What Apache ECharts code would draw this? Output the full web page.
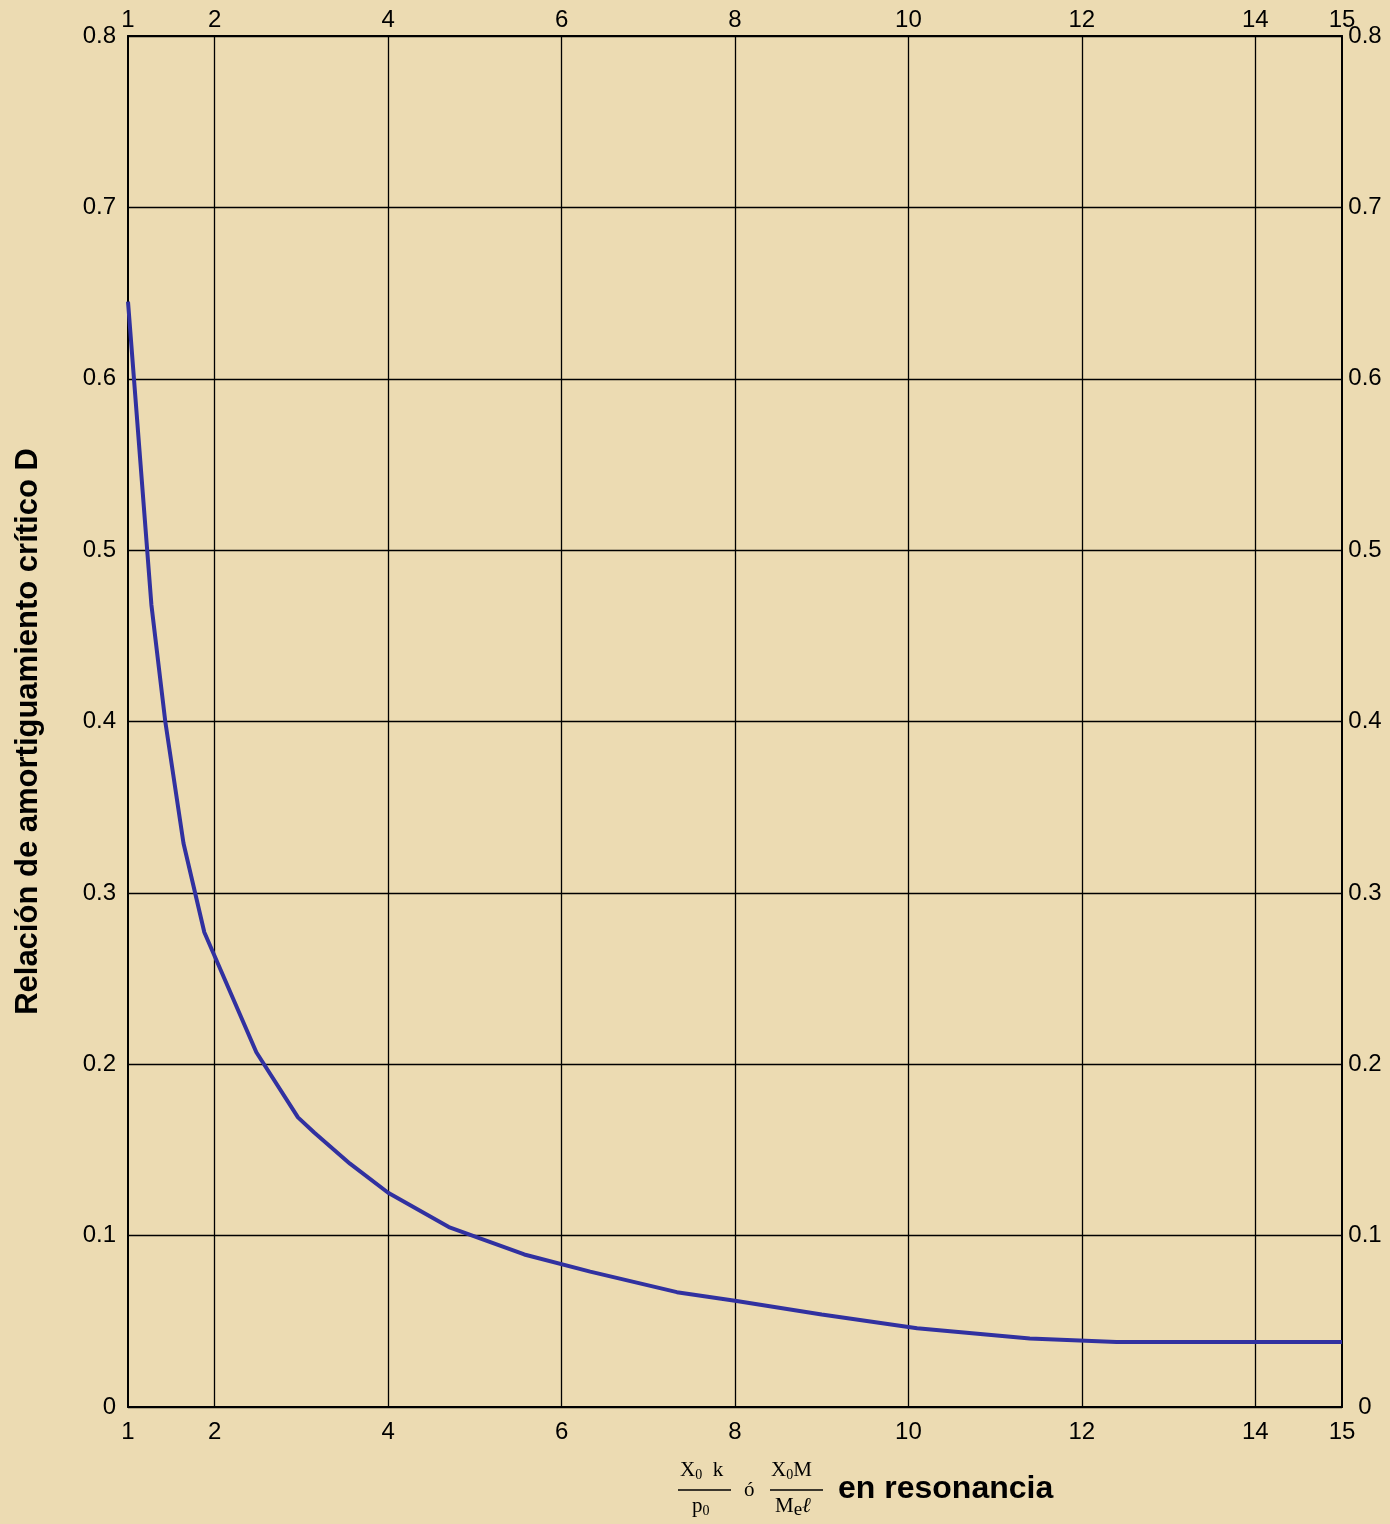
<!DOCTYPE html>
<html>
<head>
<meta charset="utf-8">
<script src="https://cdn.jsdelivr.net/npm/echarts@6/dist/echarts.min.js"></script>
<style>
  html, body { margin: 0; padding: 0; background: #ecdbb2; }
  #main { width: 1390px; height: 1524px; }
</style>
</head>
<body>
<div id="main"></div>
<script>
// valores
var xValues = [1.0, 1.27, 1.43, 1.64, 1.88, 2.48, 2.96, 3.15, 3.56, 4.0, 4.70, 5.57, 6.33, 7.33, 8.0, 9.0, 10.1, 11.4, 12.4, 15.0];
var dValues = [0.645, 0.468, 0.400, 0.329, 0.277, 0.207, 0.169, 0.160, 0.142, 0.125, 0.105, 0.089, 0.079, 0.067, 0.062, 0.054, 0.046, 0.040, 0.038, 0.038];
var xTickLabels = [1, 2, 4, 6, 8, 10, 12, 14, 15];
var xGridValues = [2, 4, 6, 8, 10, 12, 14];

var myChart = echarts.init(document.getElementById('main'));

var seriesData = [];
for (var i = 0; i < xValues.length; i++) {
	seriesData.push([xValues[i], dValues[i]]);
}

var font = 'Liberation Sans';
var serif = 'Liberation Serif';

var xAxisBase = {
	type: 'value',
	min: 1,
	max: 15,
	axisLine: { show: true, onZero: false, lineStyle: { color: '#000', width: 2 } },
	axisTick: { show: false, customValues: xGridValues },
	axisLabel: {
		customValues: xTickLabels,
		color: '#000',
		fontFamily: font,
		fontSize: 24
	}
};

var fracRich = {
	n: { fontFamily: serif, fontSize: 21, fill: '#000' },
	s: { fontFamily: serif, fontSize: 14, fill: '#000', padding: [10, 0, 0, 0] },
	e: { fontFamily: serif, fontSize: 19, fill: '#000', padding: [7, 0, 0, 0] },
	l: { fontFamily: serif, fontSize: 21, fontStyle: 'italic', fill: '#000' }
};

var option = {
	backgroundColor: '#ecdbb2',
	animation: false,
	grid: { left: 128, right: 48, top: 36, bottom: 117 },
	xAxis: [
		Object.assign({}, xAxisBase, {
			position: 'bottom',
			axisLabel: Object.assign({}, xAxisBase.axisLabel, { margin: 13 }),
			splitLine: { show: true, lineStyle: { color: '#000', width: 1.3 } }
		}),
		Object.assign({}, xAxisBase, {
			position: 'top',
			axisLabel: Object.assign({}, xAxisBase.axisLabel, { margin: 4 }),
			splitLine: { show: false }
		})
	],
	yAxis: [{
		type: 'value',
		min: 0,
		max: 0.8,
		interval: 0.1,
		position: 'left',
		name: 'Relación de amortiguamiento crítico D',
		nameLocation: 'middle',
		nameGap: 84,
		nameTextStyle: { color: '#000', fontFamily: font, fontWeight: 'bold', fontSize: 31, padding: [0, 20, 0, 0] },
		axisLine: { show: true, onZero: false, lineStyle: { color: '#000', width: 2 } },
		axisTick: { show: false },
		axisLabel: { color: '#000', fontFamily: font, fontSize: 24, margin: 12 },
		splitLine: { show: true, lineStyle: { color: '#000', width: 1.3 } }
	}, {
		type: 'value',
		min: 0,
		max: 0.8,
		interval: 0.1,
		position: 'right',
		axisLine: { show: true, onZero: false, lineStyle: { color: '#000', width: 2 } },
		axisTick: { show: false },
		axisLabel: { color: '#000', fontFamily: font, fontSize: 24, margin: 23, align: 'center' },
		splitLine: { show: false }
	}],
	graphic: [
		// X0 k / p0
		{ type: 'text', left: 680, top: 1460, style: { rich: fracRich, text: '{n|X}{s|0}{n|  k}' } },
		{ type: 'line', shape: { x1: 678, y1: 1490, x2: 731, y2: 1490 }, style: { stroke: '#000', lineWidth: 1.3 } },
		{ type: 'text', left: 692, top: 1496, style: { rich: fracRich, text: '{n|p}{s|0}' } },
		{ type: 'text', left: 744, top: 1480, style: { text: 'ó', fontFamily: serif, fontSize: 21, fill: '#000' } },
		// X0 M / Me l
		{ type: 'text', left: 771, top: 1460, style: { rich: fracRich, text: '{n|X}{s|0}{n|M}' } },
		{ type: 'line', shape: { x1: 770, y1: 1490, x2: 823, y2: 1490 }, style: { stroke: '#000', lineWidth: 1.3 } },
		{ type: 'text', left: 775, top: 1496, style: { rich: fracRich, text: '{n|M}{e|e}{l|ℓ}' } },
		{ type: 'text', left: 838, top: 1473, style: { text: 'en resonancia', fontFamily: font, fontWeight: 'bold', fontSize: 32, fill: '#000' } }
	],
	series: [{
		type: 'line',
		data: seriesData,
		showSymbol: false,
		smooth: false,
		lineStyle: { color: '#3131a0', width: 4 },
		z: 5
	}]
};

myChart.setOption(option);
</script>
</body>
</html>
